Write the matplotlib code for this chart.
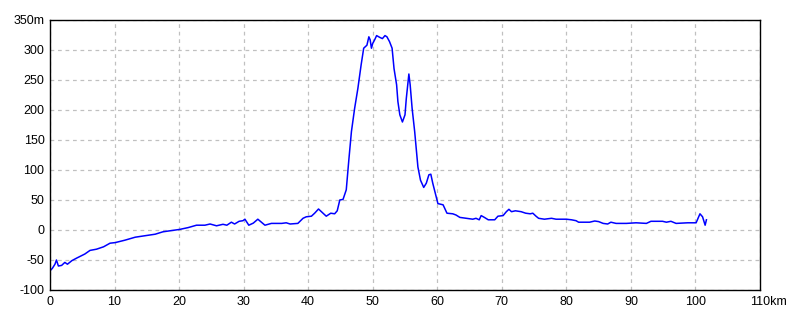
"""
Elevation profile along the route (distance km vs altitude m).
"""

import matplotlib

matplotlib.use("Agg")
import matplotlib.pyplot as plt
import matplotlib.transforms as mtransforms

# distance from start (km) and altitude (m)
dist_km = [
    0.0, 0.36, 0.77, 1.0, 1.3, 1.8, 2.3, 2.7, 3.4, 4.1, 5.4, 6.2, 7.2, 8.3,
    9.3, 10.1, 11.6, 13.2, 14.7, 16.3, 17.5, 18.8, 20.1, 21.4, 22.7, 24.0,
    24.8, 25.8, 26.8, 27.4, 28.1, 28.6, 29.3, 29.9, 30.2, 30.8, 31.5, 32.2,
    33.3, 34.3, 35.9, 36.6, 37.2, 38.4, 39.2, 39.7, 40.5, 41.0, 41.6, 42.2,
    42.8, 43.5, 44.1, 44.5, 44.9, 45.4, 45.9, 46.3, 46.7, 47.2, 47.7, 48.2,
    48.6, 49.1, 49.4, 49.6, 49.8, 50.0, 50.3, 50.6, 51.1, 51.5, 51.9, 52.2,
    52.6, 53.0, 53.3, 53.7, 53.9, 54.2, 54.6, 55.0, 55.2, 55.5, 55.6, 55.8,
    56.1, 56.5, 57.0, 57.4, 57.9, 58.3, 58.7, 59.0, 59.3, 59.7, 60.1, 60.9,
    61.5, 62.4, 62.9, 63.5, 64.5, 65.5, 66.0, 66.5, 66.8, 67.3, 67.9, 68.9,
    69.4, 70.2, 70.7, 71.1, 71.5, 72.1, 73.0, 73.7, 74.4, 74.8, 75.3, 75.7,
    76.6, 77.7, 78.4, 80.0, 80.8, 81.5, 81.9, 83.6, 84.4, 85.0, 85.7, 86.4,
    86.9, 87.7, 89.3, 90.8, 92.4, 93.1, 94.9, 95.5, 96.2, 97.0, 98.8, 100.1,
    100.7, 101.1, 101.5, 101.7,
]
alt_m = [
    -68, -64, -57, -50, -60, -59, -54, -57, -51, -47, -40, -34, -32, -28,
    -22, -21, -17, -12, -9.5, -7, -3, -1, 1, 4, 8, 8,
    10, 7, 9.5, 8, 13, 10, 14.5, 15.5, 18, 8, 11.5, 18,
    8, 11, 11, 12, 10, 11, 19.5, 22, 23, 28, 35, 29,
    23, 28, 27, 32, 50, 51, 67, 117, 164, 203, 236, 275,
    303, 308, 322, 317, 303, 311, 317, 324, 321, 319, 324, 322,
    314, 303, 269, 242, 214, 192, 180, 192, 219, 250, 260, 242,
    203, 164, 105, 83, 71, 78, 92, 93, 78, 61, 44, 42,
    28, 27, 25, 21, 19.5, 18, 19.5, 17, 24, 21, 17, 17,
    23, 24, 30.5, 34.5, 30.5, 32, 30.5, 28, 27, 28, 23, 19.5,
    18, 19.5, 18, 18, 17, 15.5, 13, 13, 15, 14, 11, 10,
    13, 11, 11, 12, 11, 14.5, 14.5, 13, 14.5, 11, 12, 12,
    27, 22, 8, 17,
]

x_ticks = list(range(0, 111, 10))
y_ticks = list(range(-100, 351, 50))
x_labels = [str(v) for v in x_ticks[:-1]] + ["110km"]
y_labels = [str(v) for v in y_ticks[:-1]] + ["350m"]

plt.rcParams["font.family"] = ["Liberation Sans", "DejaVu Sans"]
LABEL_SIZE = 9

fig = plt.figure(figsize=(8, 3.2), dpi=100)
ax = fig.add_axes([0.0625, 0.09375, 0.8875, 0.84375])

ax.plot(dist_km, alt_m, color="#0000ff", linewidth=1.1)

ax.set_xlim(0, 110)
ax.set_ylim(-100, 350)
ax.set_xticks(x_ticks)
ax.set_xticklabels(x_labels)
ax.set_yticks(y_ticks)
ax.set_yticklabels(y_labels)
ax.tick_params(length=0, labelsize=LABEL_SIZE, pad=4)
ax.grid(True, color="#c0c0c0", linestyle=(0, (3, 3)), linewidth=0.9)
ax.set_axisbelow(True)
for side in ax.spines.values():
    side.set_color("black")
    side.set_linewidth(1.0)

# keep the "110" part of "110km" centred on its tick, unit trailing right
renderer = fig.canvas.get_renderer()
probe = fig.text(0, 0, "110", fontsize=LABEL_SIZE)
half_w = probe.get_window_extent(renderer).width / 2 / fig.dpi
probe.remove()
last = ax.get_xticklabels()[-1]
last.set_horizontalalignment("left")
last.set_transform(last.get_transform()
                   + mtransforms.ScaledTranslation(-half_w, 0, fig.dpi_scale_trans))

fig.savefig("out.png", dpi=100)
plt.close(fig)
